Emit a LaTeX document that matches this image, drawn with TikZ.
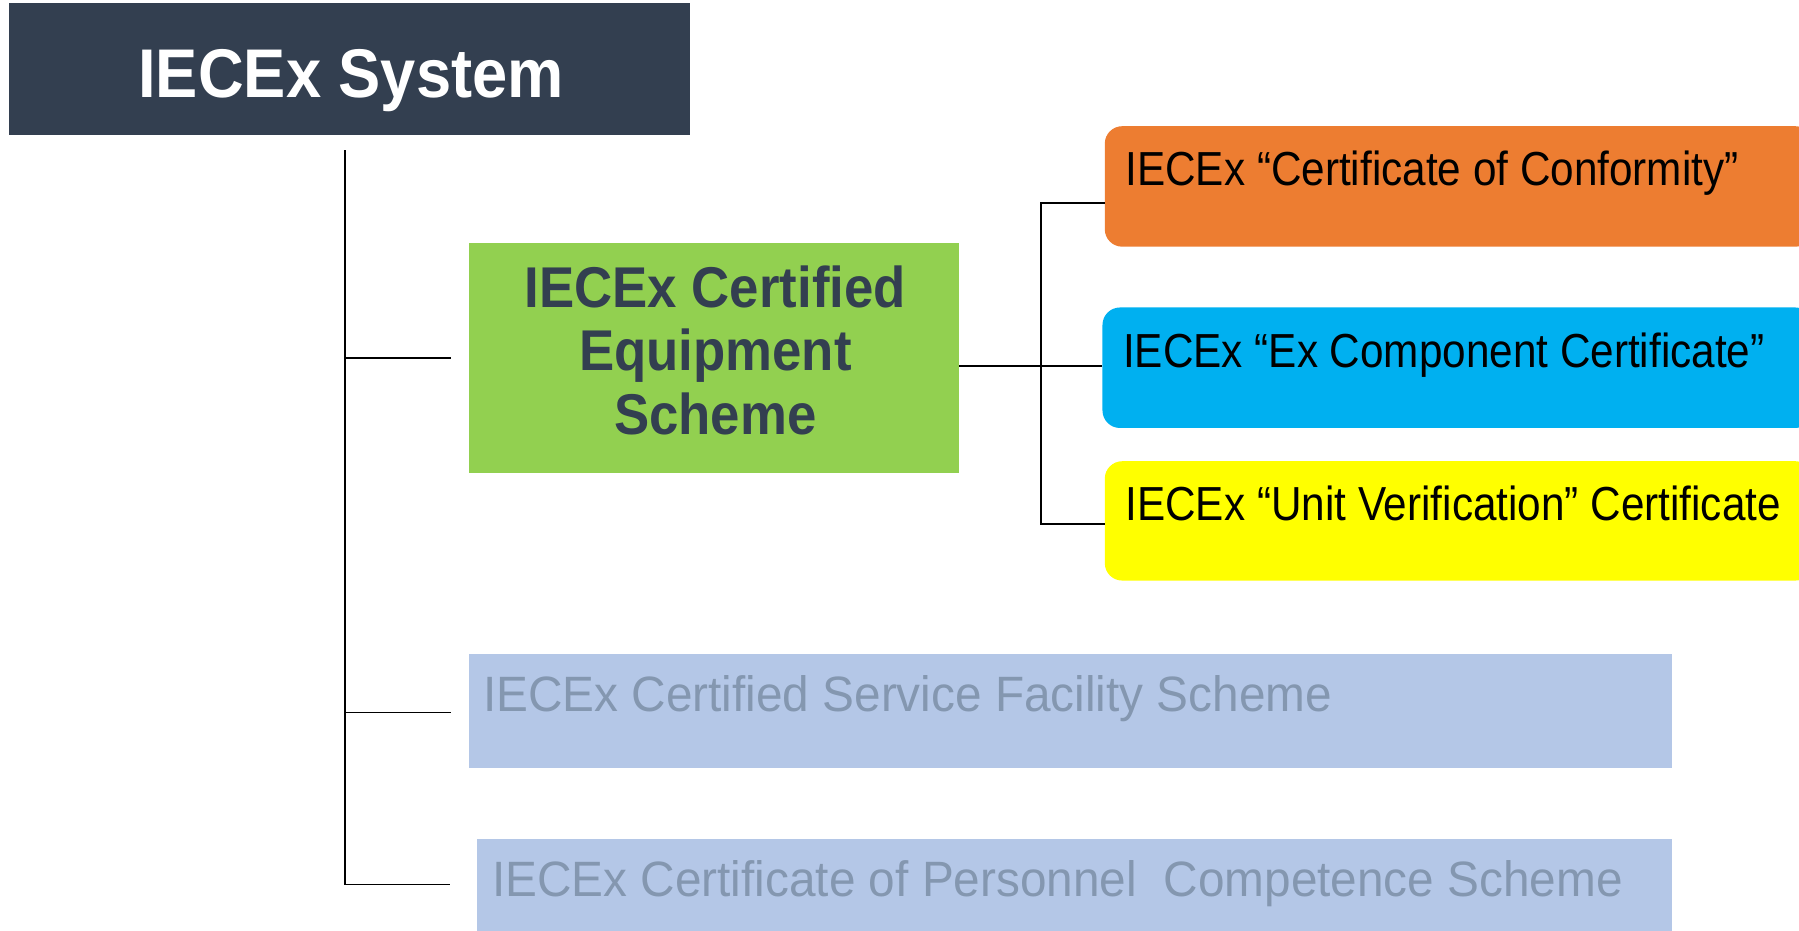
\documentclass[tikz,border=0pt]{standalone}
\usepackage{fontspec}
\setmainfont{Liberation Sans}
\usepackage{graphicx}
\definecolor{navy}{HTML}{333F50}
\definecolor{grn}{HTML}{92D050}
\definecolor{org}{HTML}{ED7D31}
\definecolor{sky}{HTML}{00B0F0}
\definecolor{ylw}{HTML}{FFFF00}
\definecolor{lblue}{HTML}{B4C7E7}
\definecolor{gtext}{HTML}{8497B0}
\newcommand\vst[2]{\scalebox{1}[#1]{#2}}
\begin{document}
\begin{tikzpicture}[x=0.025cm,y=-0.025cm,
  box/.style={inner sep=0pt,outer sep=0pt,draw=none},
  rbox/.style={box,rounded corners=0.38cm},
  txt/.style={inner sep=0pt,outer sep=0pt},
  certtxt/.style={txt,anchor=base west,text=black,font=\fontsize{26.2}{30}\selectfont},
  schtxt/.style={txt,anchor=base west,text=gtext,font=\fontsize{29.6}{34}\selectfont},
  conn/.style={draw=black,line width=1.1pt}]
\useasboundingbox (0,0) rectangle (1568,811);
\clip (0,0) rectangle (1568,811);
% boxes
\node[box,fill=navy,minimum width=14.825cm,minimum height=2.875cm] (sys) at (304.5,60.5) {};
\node[box,fill=grn,minimum width=10.675cm,minimum height=5cm] (green) at (622.5,312) {};
\node[rbox,fill=org,minimum width=15.425cm,minimum height=2.625cm] (orange) at (1271.5,162.5) {};
\node[rbox,fill=sky,minimum width=15.475cm,minimum height=2.625cm] (blue) at (1270.5,320.5) {};
\node[rbox,fill=ylw,minimum width=15.425cm,minimum height=2.6cm] (yellow) at (1271.5,454) {};
\node[box,fill=lblue,minimum width=26.2cm,minimum height=2.475cm] (lb1) at (933,619.5) {};
\node[box,fill=lblue,minimum width=26.025cm,minimum height=2.475cm] (lb2) at (936.5,780.5) {};
% texts
\node[txt,anchor=base,text=white,font=\fontsize{39.2}{42}\selectfont\bfseries] (systxt) at (306,85) {\vst{1.09}{IECEx System}};
\node[txt,anchor=base,text=navy,font=\fontsize{32.7}{36}\selectfont\bfseries] (greentxt) at (623.5,268)
  {\vst{1.09}{\begin{tabular}[t]{@{}c@{}}IECEx Certified\\Equipment\\Scheme\end{tabular}}};
\node[certtxt] (orangetxt) at (981,162) {\vst{1.13}{IECEx “Certificate of Conformity”}};
\node[certtxt] (bluetxt) at (979,320) {\vst{1.13}{IECEx “Ex Component Certificate”}};
\node[certtxt] (yellowtxt) at (981,454) {\vst{1.13}{IECEx “Unit Verification” Certificate}};
\node[schtxt] (lb1txt) at (421,620) {\vst{1.04}{IECEx Certified Service Facility Scheme}};
\node[schtxt] (lb2txt) at (429,781) {\vst{1.04}{IECEx Certificate of Personnel\ \ Competence Scheme}};
% connectors
\coordinate (t0) at (301,131);
\coordinate (b1) at (393,312);
\coordinate (b2) at (393,621);
\coordinate (b3) at (392,771);
\draw[conn] (t0) |- (b3);
\draw[conn] (t0 |- b1) -- (b1);
\draw[conn] (t0 |- b2) -- (b2);
\coordinate (g1) at (836,319);
\coordinate (o1) at (963,177);
\coordinate (y1) at (963,457);
\coordinate (j3) at (907,457);
\draw[conn] (g1) -- (blue.west |- g1);
\draw[conn] (o1) -| (j3) -- (y1);
\end{tikzpicture}
\end{document}
